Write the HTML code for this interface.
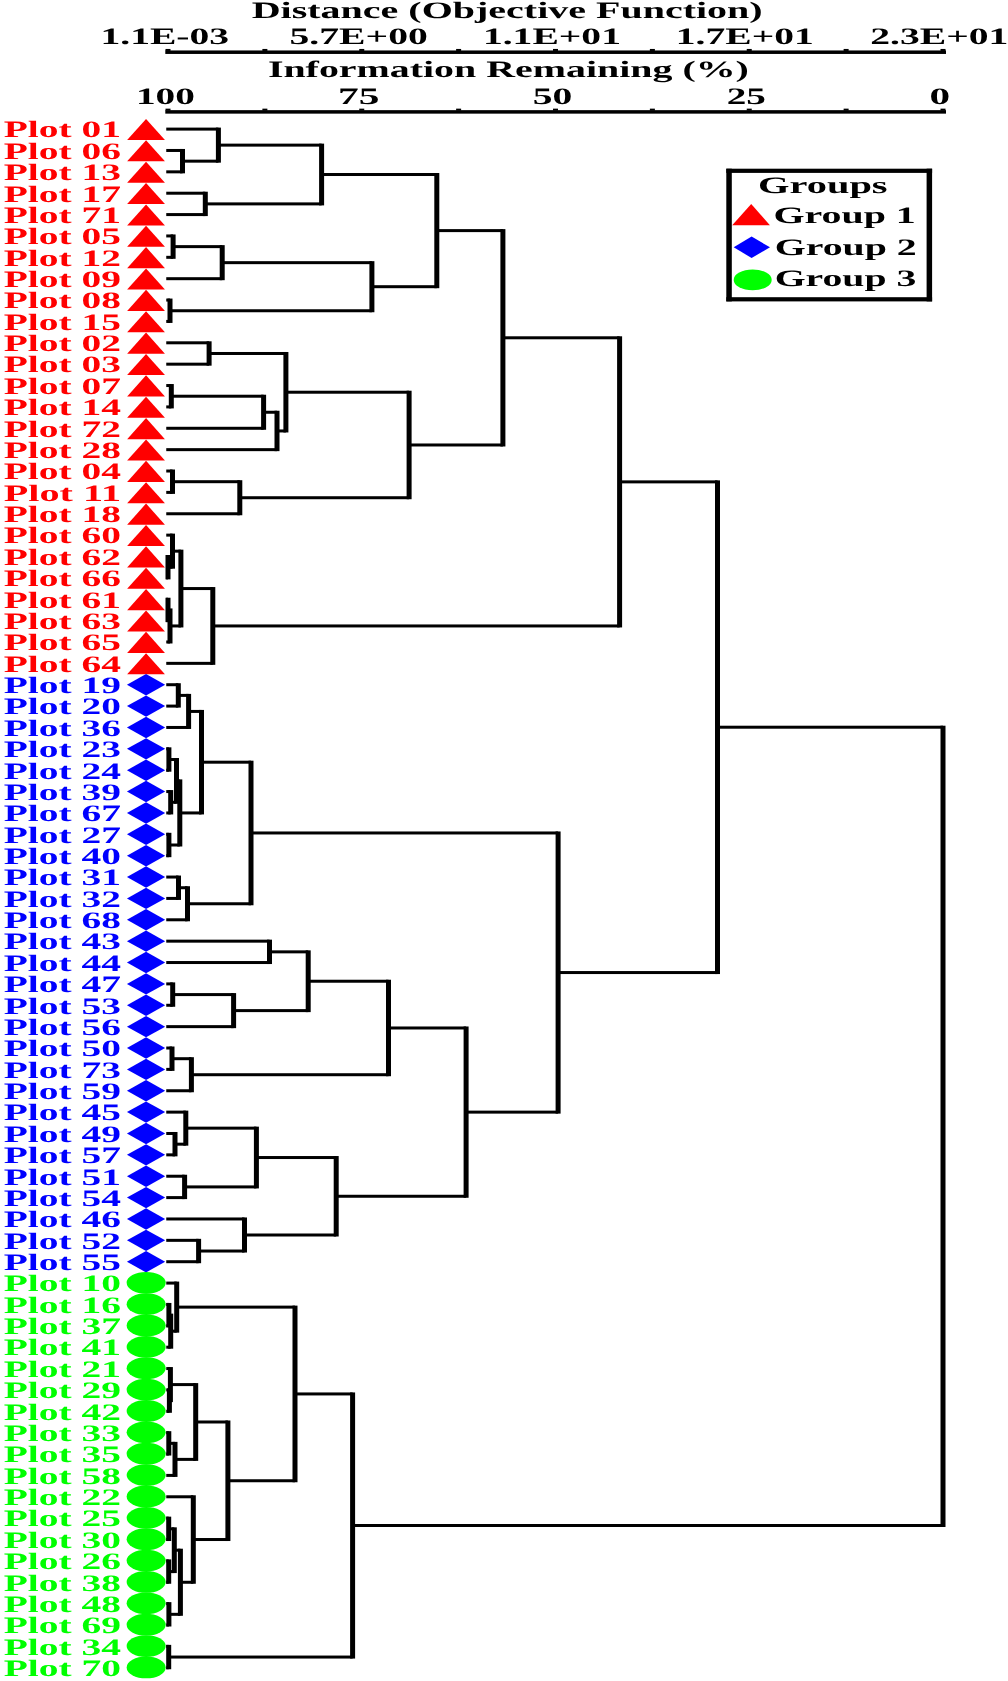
<!DOCTYPE html>
<html><head><meta charset="utf-8"><style>
html,body{margin:0;padding:0;background:#fff;width:1008px;height:1681px;overflow:hidden;}
svg{display:block;will-change:transform;}
text{font-family:"Liberation Serif",serif;font-weight:bold;text-rendering:geometricPrecision;}
</style></head><body>
<svg width="1008" height="1681" viewBox="0 0 1008 1681">
<rect width="1008" height="1681" fill="#fff"/>
<g fill="#000">
<rect x="165.3" y="50.45" width="780.7" height="3.5"/>
<rect x="165.50" y="48.95" width="5" height="2"/>
<rect x="262.38" y="48.95" width="5" height="2"/>
<rect x="359.25" y="48.95" width="5" height="2"/>
<rect x="456.12" y="48.95" width="5" height="2"/>
<rect x="553.00" y="48.95" width="5" height="2"/>
<rect x="649.88" y="48.95" width="5" height="2"/>
<rect x="746.75" y="48.95" width="5" height="2"/>
<rect x="843.62" y="48.95" width="5" height="2"/>
<rect x="940.50" y="48.95" width="5" height="2"/>
<rect x="165.3" y="110.15" width="780.7" height="3.5"/>
<rect x="165.50" y="108.65" width="5" height="2"/>
<rect x="262.38" y="108.65" width="5" height="2"/>
<rect x="359.25" y="108.65" width="5" height="2"/>
<rect x="456.12" y="108.65" width="5" height="2"/>
<rect x="553.00" y="108.65" width="5" height="2"/>
<rect x="649.88" y="108.65" width="5" height="2"/>
<rect x="746.75" y="108.65" width="5" height="2"/>
<rect x="843.62" y="108.65" width="5" height="2"/>
<rect x="940.50" y="108.65" width="5" height="2"/>
<text x="251.70" y="17.80" font-size="23.5" textLength="511.02" lengthAdjust="spacingAndGlyphs">Distance (Objective Function)</text>
<text x="100.43" y="43.70" font-size="23.5" textLength="128.76" lengthAdjust="spacingAndGlyphs">1.1E-03</text>
<text x="289.51" y="43.70" font-size="23.5" textLength="138.35" lengthAdjust="spacingAndGlyphs">5.7E+00</text>
<text x="482.93" y="43.70" font-size="23.5" textLength="138.02" lengthAdjust="spacingAndGlyphs">1.1E+01</text>
<text x="675.84" y="43.70" font-size="23.5" textLength="137.92" lengthAdjust="spacingAndGlyphs">1.7E+01</text>
<text x="870.32" y="43.70" font-size="23.5" textLength="138.14" lengthAdjust="spacingAndGlyphs">2.3E+01</text>
<text x="267.90" y="77.40" font-size="23.5" textLength="481.01" lengthAdjust="spacingAndGlyphs">Information Remaining (%)</text>
<text x="135.96" y="103.60" font-size="23.5" textLength="58.97" lengthAdjust="spacingAndGlyphs">100</text>
<text x="338.02" y="103.60" font-size="23.5" textLength="41.43" lengthAdjust="spacingAndGlyphs">75</text>
<text x="532.72" y="103.60" font-size="23.5" textLength="39.57" lengthAdjust="spacingAndGlyphs">50</text>
<text x="726.73" y="103.60" font-size="23.5" textLength="39.24" lengthAdjust="spacingAndGlyphs">25</text>
<text x="929.55" y="103.60" font-size="23.5" textLength="20.60" lengthAdjust="spacingAndGlyphs">0</text>
</g>
<g>
<polygon fill="#ff0000" points="127.15,140.00 164.95,140.00 146.05,118.90"/>
<polygon fill="#ff0000" points="127.15,161.37 164.95,161.37 146.05,140.27"/>
<polygon fill="#ff0000" points="127.15,182.74 164.95,182.74 146.05,161.64"/>
<polygon fill="#ff0000" points="127.15,204.11 164.95,204.11 146.05,183.01"/>
<polygon fill="#ff0000" points="127.15,225.48 164.95,225.48 146.05,204.38"/>
<polygon fill="#ff0000" points="127.15,246.85 164.95,246.85 146.05,225.75"/>
<polygon fill="#ff0000" points="127.15,268.22 164.95,268.22 146.05,247.12"/>
<polygon fill="#ff0000" points="127.15,289.59 164.95,289.59 146.05,268.49"/>
<polygon fill="#ff0000" points="127.15,310.96 164.95,310.96 146.05,289.86"/>
<polygon fill="#ff0000" points="127.15,332.33 164.95,332.33 146.05,311.23"/>
<polygon fill="#ff0000" points="127.15,353.70 164.95,353.70 146.05,332.60"/>
<polygon fill="#ff0000" points="127.15,375.07 164.95,375.07 146.05,353.97"/>
<polygon fill="#ff0000" points="127.15,396.44 164.95,396.44 146.05,375.34"/>
<polygon fill="#ff0000" points="127.15,417.81 164.95,417.81 146.05,396.71"/>
<polygon fill="#ff0000" points="127.15,439.18 164.95,439.18 146.05,418.08"/>
<polygon fill="#ff0000" points="127.15,460.55 164.95,460.55 146.05,439.45"/>
<polygon fill="#ff0000" points="127.15,481.92 164.95,481.92 146.05,460.82"/>
<polygon fill="#ff0000" points="127.15,503.29 164.95,503.29 146.05,482.19"/>
<polygon fill="#ff0000" points="127.15,524.66 164.95,524.66 146.05,503.56"/>
<polygon fill="#ff0000" points="127.15,546.03 164.95,546.03 146.05,524.93"/>
<polygon fill="#ff0000" points="127.15,567.40 164.95,567.40 146.05,546.30"/>
<polygon fill="#ff0000" points="127.15,588.77 164.95,588.77 146.05,567.67"/>
<polygon fill="#ff0000" points="127.15,610.14 164.95,610.14 146.05,589.04"/>
<polygon fill="#ff0000" points="127.15,631.51 164.95,631.51 146.05,610.41"/>
<polygon fill="#ff0000" points="127.15,652.88 164.95,652.88 146.05,631.78"/>
<polygon fill="#ff0000" points="127.15,674.25 164.95,674.25 146.05,653.15"/>
<polygon fill="#0000ff" points="126.95,684.72 146.05,674.02 165.15,684.72 146.05,695.42"/>
<polygon fill="#0000ff" points="126.95,706.09 146.05,695.39 165.15,706.09 146.05,716.79"/>
<polygon fill="#0000ff" points="126.95,727.46 146.05,716.76 165.15,727.46 146.05,738.16"/>
<polygon fill="#0000ff" points="126.95,748.83 146.05,738.13 165.15,748.83 146.05,759.53"/>
<polygon fill="#0000ff" points="126.95,770.20 146.05,759.50 165.15,770.20 146.05,780.90"/>
<polygon fill="#0000ff" points="126.95,791.57 146.05,780.87 165.15,791.57 146.05,802.27"/>
<polygon fill="#0000ff" points="126.95,812.94 146.05,802.24 165.15,812.94 146.05,823.64"/>
<polygon fill="#0000ff" points="126.95,834.31 146.05,823.61 165.15,834.31 146.05,845.01"/>
<polygon fill="#0000ff" points="126.95,855.68 146.05,844.98 165.15,855.68 146.05,866.38"/>
<polygon fill="#0000ff" points="126.95,877.05 146.05,866.35 165.15,877.05 146.05,887.75"/>
<polygon fill="#0000ff" points="126.95,898.42 146.05,887.72 165.15,898.42 146.05,909.12"/>
<polygon fill="#0000ff" points="126.95,919.79 146.05,909.09 165.15,919.79 146.05,930.49"/>
<polygon fill="#0000ff" points="126.95,941.16 146.05,930.46 165.15,941.16 146.05,951.86"/>
<polygon fill="#0000ff" points="126.95,962.53 146.05,951.83 165.15,962.53 146.05,973.23"/>
<polygon fill="#0000ff" points="126.95,983.90 146.05,973.20 165.15,983.90 146.05,994.60"/>
<polygon fill="#0000ff" points="126.95,1005.27 146.05,994.57 165.15,1005.27 146.05,1015.97"/>
<polygon fill="#0000ff" points="126.95,1026.64 146.05,1015.94 165.15,1026.64 146.05,1037.34"/>
<polygon fill="#0000ff" points="126.95,1048.01 146.05,1037.31 165.15,1048.01 146.05,1058.71"/>
<polygon fill="#0000ff" points="126.95,1069.38 146.05,1058.68 165.15,1069.38 146.05,1080.08"/>
<polygon fill="#0000ff" points="126.95,1090.75 146.05,1080.05 165.15,1090.75 146.05,1101.45"/>
<polygon fill="#0000ff" points="126.95,1112.12 146.05,1101.42 165.15,1112.12 146.05,1122.82"/>
<polygon fill="#0000ff" points="126.95,1133.49 146.05,1122.79 165.15,1133.49 146.05,1144.19"/>
<polygon fill="#0000ff" points="126.95,1154.86 146.05,1144.16 165.15,1154.86 146.05,1165.56"/>
<polygon fill="#0000ff" points="126.95,1176.23 146.05,1165.53 165.15,1176.23 146.05,1186.93"/>
<polygon fill="#0000ff" points="126.95,1197.60 146.05,1186.90 165.15,1197.60 146.05,1208.30"/>
<polygon fill="#0000ff" points="126.95,1218.97 146.05,1208.27 165.15,1218.97 146.05,1229.67"/>
<polygon fill="#0000ff" points="126.95,1240.34 146.05,1229.64 165.15,1240.34 146.05,1251.04"/>
<polygon fill="#0000ff" points="126.95,1261.71 146.05,1251.01 165.15,1261.71 146.05,1272.41"/>
<ellipse fill="#00ff00" cx="146.15" cy="1282.78" rx="19.5" ry="10.9"/>
<ellipse fill="#00ff00" cx="146.15" cy="1304.15" rx="19.5" ry="10.9"/>
<ellipse fill="#00ff00" cx="146.15" cy="1325.52" rx="19.5" ry="10.9"/>
<ellipse fill="#00ff00" cx="146.15" cy="1346.89" rx="19.5" ry="10.9"/>
<ellipse fill="#00ff00" cx="146.15" cy="1368.26" rx="19.5" ry="10.9"/>
<ellipse fill="#00ff00" cx="146.15" cy="1389.63" rx="19.5" ry="10.9"/>
<ellipse fill="#00ff00" cx="146.15" cy="1411.00" rx="19.5" ry="10.9"/>
<ellipse fill="#00ff00" cx="146.15" cy="1432.37" rx="19.5" ry="10.9"/>
<ellipse fill="#00ff00" cx="146.15" cy="1453.74" rx="19.5" ry="10.9"/>
<ellipse fill="#00ff00" cx="146.15" cy="1475.11" rx="19.5" ry="10.9"/>
<ellipse fill="#00ff00" cx="146.15" cy="1496.48" rx="19.5" ry="10.9"/>
<ellipse fill="#00ff00" cx="146.15" cy="1517.85" rx="19.5" ry="10.9"/>
<ellipse fill="#00ff00" cx="146.15" cy="1539.22" rx="19.5" ry="10.9"/>
<ellipse fill="#00ff00" cx="146.15" cy="1560.59" rx="19.5" ry="10.9"/>
<ellipse fill="#00ff00" cx="146.15" cy="1581.96" rx="19.5" ry="10.9"/>
<ellipse fill="#00ff00" cx="146.15" cy="1603.33" rx="19.5" ry="10.9"/>
<ellipse fill="#00ff00" cx="146.15" cy="1624.70" rx="19.5" ry="10.9"/>
<ellipse fill="#00ff00" cx="146.15" cy="1646.07" rx="19.5" ry="10.9"/>
<ellipse fill="#00ff00" cx="146.15" cy="1667.44" rx="19.5" ry="10.9"/>
</g>
<g>
<text x="3.71" y="137.40" font-size="23.5" fill="#ff0000" textLength="117.33" lengthAdjust="spacingAndGlyphs">Plot 01</text>
<text x="3.71" y="158.77" font-size="23.5" fill="#ff0000" textLength="117.33" lengthAdjust="spacingAndGlyphs">Plot 06</text>
<text x="3.71" y="180.14" font-size="23.5" fill="#ff0000" textLength="117.33" lengthAdjust="spacingAndGlyphs">Plot 13</text>
<text x="3.71" y="201.51" font-size="23.5" fill="#ff0000" textLength="117.33" lengthAdjust="spacingAndGlyphs">Plot 17</text>
<text x="3.71" y="222.88" font-size="23.5" fill="#ff0000" textLength="117.33" lengthAdjust="spacingAndGlyphs">Plot 71</text>
<text x="3.71" y="244.25" font-size="23.5" fill="#ff0000" textLength="117.33" lengthAdjust="spacingAndGlyphs">Plot 05</text>
<text x="3.71" y="265.62" font-size="23.5" fill="#ff0000" textLength="117.33" lengthAdjust="spacingAndGlyphs">Plot 12</text>
<text x="3.71" y="286.99" font-size="23.5" fill="#ff0000" textLength="117.33" lengthAdjust="spacingAndGlyphs">Plot 09</text>
<text x="3.71" y="308.36" font-size="23.5" fill="#ff0000" textLength="117.33" lengthAdjust="spacingAndGlyphs">Plot 08</text>
<text x="3.71" y="329.73" font-size="23.5" fill="#ff0000" textLength="117.33" lengthAdjust="spacingAndGlyphs">Plot 15</text>
<text x="3.71" y="351.10" font-size="23.5" fill="#ff0000" textLength="117.33" lengthAdjust="spacingAndGlyphs">Plot 02</text>
<text x="3.71" y="372.47" font-size="23.5" fill="#ff0000" textLength="117.33" lengthAdjust="spacingAndGlyphs">Plot 03</text>
<text x="3.71" y="393.84" font-size="23.5" fill="#ff0000" textLength="117.33" lengthAdjust="spacingAndGlyphs">Plot 07</text>
<text x="3.71" y="415.21" font-size="23.5" fill="#ff0000" textLength="117.33" lengthAdjust="spacingAndGlyphs">Plot 14</text>
<text x="3.71" y="436.58" font-size="23.5" fill="#ff0000" textLength="117.33" lengthAdjust="spacingAndGlyphs">Plot 72</text>
<text x="3.71" y="457.95" font-size="23.5" fill="#ff0000" textLength="117.33" lengthAdjust="spacingAndGlyphs">Plot 28</text>
<text x="3.71" y="479.32" font-size="23.5" fill="#ff0000" textLength="117.33" lengthAdjust="spacingAndGlyphs">Plot 04</text>
<text x="3.71" y="500.69" font-size="23.5" fill="#ff0000" textLength="117.33" lengthAdjust="spacingAndGlyphs">Plot 11</text>
<text x="3.71" y="522.06" font-size="23.5" fill="#ff0000" textLength="117.33" lengthAdjust="spacingAndGlyphs">Plot 18</text>
<text x="3.71" y="543.43" font-size="23.5" fill="#ff0000" textLength="117.33" lengthAdjust="spacingAndGlyphs">Plot 60</text>
<text x="3.71" y="564.80" font-size="23.5" fill="#ff0000" textLength="117.33" lengthAdjust="spacingAndGlyphs">Plot 62</text>
<text x="3.71" y="586.17" font-size="23.5" fill="#ff0000" textLength="117.33" lengthAdjust="spacingAndGlyphs">Plot 66</text>
<text x="3.71" y="607.54" font-size="23.5" fill="#ff0000" textLength="117.33" lengthAdjust="spacingAndGlyphs">Plot 61</text>
<text x="3.71" y="628.91" font-size="23.5" fill="#ff0000" textLength="117.33" lengthAdjust="spacingAndGlyphs">Plot 63</text>
<text x="3.71" y="650.28" font-size="23.5" fill="#ff0000" textLength="117.33" lengthAdjust="spacingAndGlyphs">Plot 65</text>
<text x="3.71" y="671.65" font-size="23.5" fill="#ff0000" textLength="117.33" lengthAdjust="spacingAndGlyphs">Plot 64</text>
<text x="3.71" y="693.02" font-size="23.5" fill="#0000ff" textLength="117.33" lengthAdjust="spacingAndGlyphs">Plot 19</text>
<text x="3.71" y="714.39" font-size="23.5" fill="#0000ff" textLength="117.33" lengthAdjust="spacingAndGlyphs">Plot 20</text>
<text x="3.71" y="735.76" font-size="23.5" fill="#0000ff" textLength="117.33" lengthAdjust="spacingAndGlyphs">Plot 36</text>
<text x="3.71" y="757.13" font-size="23.5" fill="#0000ff" textLength="117.33" lengthAdjust="spacingAndGlyphs">Plot 23</text>
<text x="3.71" y="778.50" font-size="23.5" fill="#0000ff" textLength="117.33" lengthAdjust="spacingAndGlyphs">Plot 24</text>
<text x="3.71" y="799.87" font-size="23.5" fill="#0000ff" textLength="117.33" lengthAdjust="spacingAndGlyphs">Plot 39</text>
<text x="3.71" y="821.24" font-size="23.5" fill="#0000ff" textLength="117.33" lengthAdjust="spacingAndGlyphs">Plot 67</text>
<text x="3.71" y="842.61" font-size="23.5" fill="#0000ff" textLength="117.33" lengthAdjust="spacingAndGlyphs">Plot 27</text>
<text x="3.71" y="863.98" font-size="23.5" fill="#0000ff" textLength="117.33" lengthAdjust="spacingAndGlyphs">Plot 40</text>
<text x="3.71" y="885.35" font-size="23.5" fill="#0000ff" textLength="117.33" lengthAdjust="spacingAndGlyphs">Plot 31</text>
<text x="3.71" y="906.72" font-size="23.5" fill="#0000ff" textLength="117.33" lengthAdjust="spacingAndGlyphs">Plot 32</text>
<text x="3.71" y="928.09" font-size="23.5" fill="#0000ff" textLength="117.33" lengthAdjust="spacingAndGlyphs">Plot 68</text>
<text x="3.71" y="949.46" font-size="23.5" fill="#0000ff" textLength="117.33" lengthAdjust="spacingAndGlyphs">Plot 43</text>
<text x="3.71" y="970.83" font-size="23.5" fill="#0000ff" textLength="117.33" lengthAdjust="spacingAndGlyphs">Plot 44</text>
<text x="3.71" y="992.20" font-size="23.5" fill="#0000ff" textLength="117.33" lengthAdjust="spacingAndGlyphs">Plot 47</text>
<text x="3.71" y="1013.57" font-size="23.5" fill="#0000ff" textLength="117.33" lengthAdjust="spacingAndGlyphs">Plot 53</text>
<text x="3.71" y="1034.94" font-size="23.5" fill="#0000ff" textLength="117.33" lengthAdjust="spacingAndGlyphs">Plot 56</text>
<text x="3.71" y="1056.31" font-size="23.5" fill="#0000ff" textLength="117.33" lengthAdjust="spacingAndGlyphs">Plot 50</text>
<text x="3.71" y="1077.68" font-size="23.5" fill="#0000ff" textLength="117.33" lengthAdjust="spacingAndGlyphs">Plot 73</text>
<text x="3.71" y="1099.05" font-size="23.5" fill="#0000ff" textLength="117.33" lengthAdjust="spacingAndGlyphs">Plot 59</text>
<text x="3.71" y="1120.42" font-size="23.5" fill="#0000ff" textLength="117.33" lengthAdjust="spacingAndGlyphs">Plot 45</text>
<text x="3.71" y="1141.79" font-size="23.5" fill="#0000ff" textLength="117.33" lengthAdjust="spacingAndGlyphs">Plot 49</text>
<text x="3.71" y="1163.16" font-size="23.5" fill="#0000ff" textLength="117.33" lengthAdjust="spacingAndGlyphs">Plot 57</text>
<text x="3.71" y="1184.53" font-size="23.5" fill="#0000ff" textLength="117.33" lengthAdjust="spacingAndGlyphs">Plot 51</text>
<text x="3.71" y="1205.90" font-size="23.5" fill="#0000ff" textLength="117.33" lengthAdjust="spacingAndGlyphs">Plot 54</text>
<text x="3.71" y="1227.27" font-size="23.5" fill="#0000ff" textLength="117.33" lengthAdjust="spacingAndGlyphs">Plot 46</text>
<text x="3.71" y="1248.64" font-size="23.5" fill="#0000ff" textLength="117.33" lengthAdjust="spacingAndGlyphs">Plot 52</text>
<text x="3.71" y="1270.01" font-size="23.5" fill="#0000ff" textLength="117.33" lengthAdjust="spacingAndGlyphs">Plot 55</text>
<text x="3.71" y="1291.38" font-size="23.5" fill="#00ff00" textLength="117.33" lengthAdjust="spacingAndGlyphs">Plot 10</text>
<text x="3.71" y="1312.75" font-size="23.5" fill="#00ff00" textLength="117.33" lengthAdjust="spacingAndGlyphs">Plot 16</text>
<text x="3.71" y="1334.12" font-size="23.5" fill="#00ff00" textLength="117.33" lengthAdjust="spacingAndGlyphs">Plot 37</text>
<text x="3.71" y="1355.49" font-size="23.5" fill="#00ff00" textLength="117.33" lengthAdjust="spacingAndGlyphs">Plot 41</text>
<text x="3.71" y="1376.86" font-size="23.5" fill="#00ff00" textLength="117.33" lengthAdjust="spacingAndGlyphs">Plot 21</text>
<text x="3.71" y="1398.23" font-size="23.5" fill="#00ff00" textLength="117.33" lengthAdjust="spacingAndGlyphs">Plot 29</text>
<text x="3.71" y="1419.60" font-size="23.5" fill="#00ff00" textLength="117.33" lengthAdjust="spacingAndGlyphs">Plot 42</text>
<text x="3.71" y="1440.97" font-size="23.5" fill="#00ff00" textLength="117.33" lengthAdjust="spacingAndGlyphs">Plot 33</text>
<text x="3.71" y="1462.34" font-size="23.5" fill="#00ff00" textLength="117.33" lengthAdjust="spacingAndGlyphs">Plot 35</text>
<text x="3.71" y="1483.71" font-size="23.5" fill="#00ff00" textLength="117.33" lengthAdjust="spacingAndGlyphs">Plot 58</text>
<text x="3.71" y="1505.08" font-size="23.5" fill="#00ff00" textLength="117.33" lengthAdjust="spacingAndGlyphs">Plot 22</text>
<text x="3.71" y="1526.45" font-size="23.5" fill="#00ff00" textLength="117.33" lengthAdjust="spacingAndGlyphs">Plot 25</text>
<text x="3.71" y="1547.82" font-size="23.5" fill="#00ff00" textLength="117.33" lengthAdjust="spacingAndGlyphs">Plot 30</text>
<text x="3.71" y="1569.19" font-size="23.5" fill="#00ff00" textLength="117.33" lengthAdjust="spacingAndGlyphs">Plot 26</text>
<text x="3.71" y="1590.56" font-size="23.5" fill="#00ff00" textLength="117.33" lengthAdjust="spacingAndGlyphs">Plot 38</text>
<text x="3.71" y="1611.93" font-size="23.5" fill="#00ff00" textLength="117.33" lengthAdjust="spacingAndGlyphs">Plot 48</text>
<text x="3.71" y="1633.30" font-size="23.5" fill="#00ff00" textLength="117.33" lengthAdjust="spacingAndGlyphs">Plot 69</text>
<text x="3.71" y="1654.67" font-size="23.5" fill="#00ff00" textLength="117.33" lengthAdjust="spacingAndGlyphs">Plot 34</text>
<text x="3.71" y="1676.04" font-size="23.5" fill="#00ff00" textLength="117.33" lengthAdjust="spacingAndGlyphs">Plot 70</text>
</g>
<g fill="#000">
<rect x="166.25" y="148.97" width="16.25" height="3.00"/>
<rect x="166.25" y="170.34" width="16.25" height="3.00"/>
<rect x="180.00" y="148.97" width="5.00" height="24.37"/>
<rect x="166.25" y="127.60" width="52.15" height="3.00"/>
<rect x="182.50" y="159.66" width="35.90" height="3.00"/>
<rect x="215.90" y="127.60" width="5.00" height="35.06"/>
<rect x="166.25" y="191.71" width="39.05" height="3.00"/>
<rect x="166.25" y="213.08" width="39.05" height="3.00"/>
<rect x="202.80" y="191.71" width="5.00" height="24.37"/>
<rect x="218.40" y="143.63" width="103.20" height="3.00"/>
<rect x="205.30" y="202.39" width="116.30" height="3.00"/>
<rect x="319.10" y="143.63" width="5.00" height="61.77"/>
<rect x="166.25" y="234.45" width="6.85" height="3.00"/>
<rect x="166.25" y="255.82" width="6.85" height="3.00"/>
<rect x="170.60" y="234.45" width="5.00" height="24.37"/>
<rect x="173.10" y="245.13" width="49.10" height="3.00"/>
<rect x="166.25" y="277.19" width="55.95" height="3.00"/>
<rect x="219.70" y="245.13" width="5.00" height="35.06"/>
<rect x="166.25" y="298.56" width="3.75" height="3.00"/>
<rect x="166.25" y="319.93" width="3.75" height="3.00"/>
<rect x="167.50" y="298.56" width="5.00" height="24.37"/>
<rect x="222.20" y="261.16" width="149.70" height="3.00"/>
<rect x="170.00" y="309.25" width="201.90" height="3.00"/>
<rect x="369.40" y="261.16" width="5.00" height="51.08"/>
<rect x="321.60" y="173.01" width="115.20" height="3.00"/>
<rect x="371.90" y="285.20" width="64.90" height="3.00"/>
<rect x="434.30" y="173.01" width="5.00" height="115.19"/>
<rect x="166.25" y="341.30" width="42.85" height="3.00"/>
<rect x="166.25" y="362.67" width="42.85" height="3.00"/>
<rect x="206.60" y="341.30" width="5.00" height="24.37"/>
<rect x="166.25" y="384.04" width="5.05" height="3.00"/>
<rect x="166.25" y="405.41" width="5.05" height="3.00"/>
<rect x="168.80" y="384.04" width="5.00" height="24.37"/>
<rect x="171.30" y="394.72" width="92.30" height="3.00"/>
<rect x="166.25" y="426.78" width="97.35" height="3.00"/>
<rect x="261.10" y="394.72" width="5.00" height="35.06"/>
<rect x="263.60" y="410.75" width="13.40" height="3.00"/>
<rect x="166.25" y="448.15" width="110.75" height="3.00"/>
<rect x="274.50" y="410.75" width="5.00" height="40.40"/>
<rect x="209.10" y="351.99" width="76.80" height="3.00"/>
<rect x="277.00" y="429.45" width="8.90" height="3.00"/>
<rect x="283.40" y="351.99" width="5.00" height="80.47"/>
<rect x="166.25" y="469.52" width="6.25" height="3.00"/>
<rect x="166.25" y="490.89" width="6.25" height="3.00"/>
<rect x="170.00" y="469.52" width="5.00" height="24.37"/>
<rect x="172.50" y="480.20" width="67.30" height="3.00"/>
<rect x="166.25" y="512.26" width="73.55" height="3.00"/>
<rect x="237.30" y="480.20" width="5.00" height="35.06"/>
<rect x="285.90" y="390.72" width="123.20" height="3.00"/>
<rect x="239.80" y="496.23" width="169.30" height="3.00"/>
<rect x="406.60" y="390.72" width="5.00" height="108.51"/>
<rect x="166.25" y="555.00" width="1.75" height="3.00"/>
<rect x="166.25" y="576.37" width="1.75" height="3.00"/>
<rect x="165.50" y="555.00" width="5.00" height="24.37"/>
<rect x="166.25" y="533.63" width="6.25" height="3.00"/>
<rect x="168.00" y="565.68" width="4.50" height="3.00"/>
<rect x="170.00" y="533.63" width="5.00" height="35.05"/>
<rect x="166.25" y="597.74" width="1.75" height="3.00"/>
<rect x="166.25" y="619.11" width="1.75" height="3.00"/>
<rect x="165.50" y="597.74" width="5.00" height="24.37"/>
<rect x="168.00" y="608.42" width="2.00" height="3.00"/>
<rect x="166.25" y="640.48" width="3.75" height="3.00"/>
<rect x="167.50" y="608.42" width="5.00" height="35.06"/>
<rect x="172.50" y="549.66" width="8.40" height="3.00"/>
<rect x="170.00" y="624.45" width="10.90" height="3.00"/>
<rect x="178.40" y="549.66" width="5.00" height="77.79"/>
<rect x="180.90" y="587.06" width="31.90" height="3.00"/>
<rect x="166.25" y="661.85" width="46.55" height="3.00"/>
<rect x="210.30" y="587.06" width="5.00" height="77.79"/>
<rect x="436.80" y="229.11" width="66.10" height="3.00"/>
<rect x="409.10" y="443.48" width="93.80" height="3.00"/>
<rect x="500.40" y="229.11" width="5.00" height="217.37"/>
<rect x="502.90" y="336.29" width="116.70" height="3.00"/>
<rect x="212.80" y="624.45" width="406.80" height="3.00"/>
<rect x="617.10" y="336.29" width="5.00" height="291.16"/>
<rect x="166.25" y="683.22" width="12.05" height="3.00"/>
<rect x="166.25" y="704.59" width="12.05" height="3.00"/>
<rect x="175.80" y="683.22" width="5.00" height="24.37"/>
<rect x="178.30" y="693.90" width="10.30" height="3.00"/>
<rect x="166.25" y="725.96" width="22.35" height="3.00"/>
<rect x="186.10" y="693.90" width="5.00" height="35.06"/>
<rect x="166.25" y="747.33" width="2.65" height="3.00"/>
<rect x="166.25" y="768.70" width="2.65" height="3.00"/>
<rect x="166.40" y="747.33" width="5.00" height="24.37"/>
<rect x="166.25" y="790.07" width="4.45" height="3.00"/>
<rect x="166.25" y="811.44" width="4.45" height="3.00"/>
<rect x="168.20" y="790.07" width="5.00" height="24.37"/>
<rect x="168.90" y="758.02" width="7.60" height="3.00"/>
<rect x="170.70" y="800.76" width="5.80" height="3.00"/>
<rect x="174.00" y="758.02" width="5.00" height="45.74"/>
<rect x="166.25" y="832.81" width="2.65" height="3.00"/>
<rect x="166.25" y="854.18" width="2.65" height="3.00"/>
<rect x="166.40" y="832.81" width="5.00" height="24.37"/>
<rect x="176.50" y="779.39" width="3.30" height="3.00"/>
<rect x="168.90" y="843.50" width="10.90" height="3.00"/>
<rect x="177.30" y="779.39" width="5.00" height="67.11"/>
<rect x="188.60" y="709.93" width="12.90" height="3.00"/>
<rect x="179.80" y="811.44" width="21.70" height="3.00"/>
<rect x="199.00" y="709.93" width="5.00" height="104.51"/>
<rect x="166.25" y="875.55" width="12.25" height="3.00"/>
<rect x="166.25" y="896.92" width="12.25" height="3.00"/>
<rect x="176.00" y="875.55" width="5.00" height="24.37"/>
<rect x="178.50" y="886.24" width="9.00" height="3.00"/>
<rect x="166.25" y="918.29" width="21.25" height="3.00"/>
<rect x="185.00" y="886.24" width="5.00" height="35.05"/>
<rect x="201.50" y="760.69" width="49.50" height="3.00"/>
<rect x="187.50" y="902.26" width="63.50" height="3.00"/>
<rect x="248.50" y="760.69" width="5.00" height="144.58"/>
<rect x="166.25" y="939.66" width="103.25" height="3.00"/>
<rect x="166.25" y="961.03" width="103.25" height="3.00"/>
<rect x="267.00" y="939.66" width="5.00" height="24.37"/>
<rect x="166.25" y="982.40" width="6.45" height="3.00"/>
<rect x="166.25" y="1003.77" width="6.45" height="3.00"/>
<rect x="170.20" y="982.40" width="5.00" height="24.37"/>
<rect x="172.70" y="993.09" width="60.90" height="3.00"/>
<rect x="166.25" y="1025.14" width="67.35" height="3.00"/>
<rect x="231.10" y="993.09" width="5.00" height="35.06"/>
<rect x="269.50" y="950.35" width="38.70" height="3.00"/>
<rect x="233.60" y="1009.11" width="74.60" height="3.00"/>
<rect x="305.70" y="950.35" width="5.00" height="61.77"/>
<rect x="166.25" y="1046.51" width="5.75" height="3.00"/>
<rect x="166.25" y="1067.88" width="5.75" height="3.00"/>
<rect x="169.50" y="1046.51" width="5.00" height="24.37"/>
<rect x="172.00" y="1057.20" width="19.40" height="3.00"/>
<rect x="166.25" y="1089.25" width="25.15" height="3.00"/>
<rect x="188.90" y="1057.20" width="5.00" height="35.05"/>
<rect x="308.20" y="979.73" width="80.30" height="3.00"/>
<rect x="191.40" y="1073.22" width="197.10" height="3.00"/>
<rect x="386.00" y="979.73" width="5.00" height="96.49"/>
<rect x="166.25" y="1131.99" width="8.75" height="3.00"/>
<rect x="166.25" y="1153.36" width="8.75" height="3.00"/>
<rect x="172.50" y="1131.99" width="5.00" height="24.37"/>
<rect x="166.25" y="1110.62" width="19.55" height="3.00"/>
<rect x="175.00" y="1142.67" width="10.80" height="3.00"/>
<rect x="183.30" y="1110.62" width="5.00" height="35.05"/>
<rect x="166.25" y="1174.73" width="18.35" height="3.00"/>
<rect x="166.25" y="1196.10" width="18.35" height="3.00"/>
<rect x="182.10" y="1174.73" width="5.00" height="24.37"/>
<rect x="185.80" y="1126.65" width="70.60" height="3.00"/>
<rect x="184.60" y="1185.41" width="71.80" height="3.00"/>
<rect x="253.90" y="1126.65" width="5.00" height="61.77"/>
<rect x="166.25" y="1238.84" width="32.35" height="3.00"/>
<rect x="166.25" y="1260.21" width="32.35" height="3.00"/>
<rect x="196.10" y="1238.84" width="5.00" height="24.37"/>
<rect x="166.25" y="1217.47" width="78.25" height="3.00"/>
<rect x="198.60" y="1249.53" width="45.90" height="3.00"/>
<rect x="242.00" y="1217.47" width="5.00" height="35.06"/>
<rect x="256.40" y="1156.03" width="79.80" height="3.00"/>
<rect x="244.50" y="1233.50" width="91.70" height="3.00"/>
<rect x="333.70" y="1156.03" width="5.00" height="80.47"/>
<rect x="388.50" y="1026.48" width="77.60" height="3.00"/>
<rect x="336.20" y="1194.76" width="129.90" height="3.00"/>
<rect x="463.60" y="1026.48" width="5.00" height="171.29"/>
<rect x="251.00" y="831.47" width="307.10" height="3.00"/>
<rect x="466.10" y="1110.62" width="92.00" height="3.00"/>
<rect x="555.60" y="831.47" width="5.00" height="282.15"/>
<rect x="619.60" y="480.37" width="97.90" height="3.00"/>
<rect x="558.10" y="971.05" width="159.40" height="3.00"/>
<rect x="715.00" y="480.37" width="5.00" height="493.68"/>
<rect x="166.25" y="1302.95" width="2.65" height="3.00"/>
<rect x="166.25" y="1324.32" width="2.65" height="3.00"/>
<rect x="166.40" y="1302.95" width="5.00" height="24.37"/>
<rect x="168.90" y="1313.63" width="1.80" height="3.00"/>
<rect x="166.25" y="1345.69" width="4.45" height="3.00"/>
<rect x="168.20" y="1313.63" width="5.00" height="35.06"/>
<rect x="166.25" y="1281.58" width="10.45" height="3.00"/>
<rect x="170.70" y="1329.66" width="6.00" height="3.00"/>
<rect x="174.20" y="1281.58" width="5.00" height="51.08"/>
<rect x="166.25" y="1388.43" width="3.15" height="3.00"/>
<rect x="166.25" y="1409.80" width="3.15" height="3.00"/>
<rect x="166.90" y="1388.43" width="5.00" height="24.37"/>
<rect x="166.25" y="1367.06" width="4.15" height="3.00"/>
<rect x="169.40" y="1399.12" width="1.00" height="3.00"/>
<rect x="167.90" y="1367.06" width="5.00" height="35.06"/>
<rect x="166.25" y="1431.17" width="2.55" height="3.00"/>
<rect x="166.25" y="1452.54" width="2.55" height="3.00"/>
<rect x="166.30" y="1431.17" width="5.00" height="24.37"/>
<rect x="168.80" y="1441.86" width="6.20" height="3.00"/>
<rect x="166.25" y="1473.91" width="8.75" height="3.00"/>
<rect x="172.50" y="1441.86" width="5.00" height="35.06"/>
<rect x="170.40" y="1383.09" width="25.30" height="3.00"/>
<rect x="175.00" y="1457.88" width="20.70" height="3.00"/>
<rect x="193.20" y="1383.09" width="5.00" height="77.80"/>
<rect x="166.25" y="1516.65" width="2.45" height="3.00"/>
<rect x="166.25" y="1538.02" width="2.45" height="3.00"/>
<rect x="166.20" y="1516.65" width="5.00" height="24.37"/>
<rect x="166.25" y="1559.39" width="2.45" height="3.00"/>
<rect x="166.25" y="1580.76" width="2.45" height="3.00"/>
<rect x="166.20" y="1559.39" width="5.00" height="24.37"/>
<rect x="168.70" y="1527.34" width="5.60" height="3.00"/>
<rect x="168.70" y="1570.07" width="5.60" height="3.00"/>
<rect x="171.80" y="1527.34" width="5.00" height="45.74"/>
<rect x="166.25" y="1602.13" width="2.65" height="3.00"/>
<rect x="166.25" y="1623.50" width="2.65" height="3.00"/>
<rect x="166.40" y="1602.13" width="5.00" height="24.37"/>
<rect x="174.30" y="1548.70" width="6.10" height="3.00"/>
<rect x="168.90" y="1612.82" width="11.50" height="3.00"/>
<rect x="177.90" y="1548.70" width="5.00" height="67.11"/>
<rect x="166.25" y="1495.28" width="27.05" height="3.00"/>
<rect x="180.40" y="1580.76" width="12.90" height="3.00"/>
<rect x="190.80" y="1495.28" width="5.00" height="88.48"/>
<rect x="195.70" y="1420.49" width="32.20" height="3.00"/>
<rect x="193.30" y="1538.02" width="34.60" height="3.00"/>
<rect x="225.40" y="1420.49" width="5.00" height="120.53"/>
<rect x="176.70" y="1305.62" width="118.30" height="3.00"/>
<rect x="227.90" y="1479.25" width="67.10" height="3.00"/>
<rect x="292.50" y="1305.62" width="5.00" height="176.63"/>
<rect x="166.25" y="1644.87" width="2.45" height="3.00"/>
<rect x="166.25" y="1666.24" width="2.45" height="3.00"/>
<rect x="166.20" y="1644.87" width="5.00" height="24.37"/>
<rect x="295.00" y="1392.44" width="57.60" height="3.00"/>
<rect x="168.70" y="1655.55" width="183.90" height="3.00"/>
<rect x="350.10" y="1392.44" width="5.00" height="266.12"/>
<rect x="717.50" y="725.71" width="225.50" height="3.00"/>
<rect x="352.60" y="1524.00" width="590.40" height="3.00"/>
<rect x="940.50" y="725.71" width="5.00" height="801.29"/>
</g>
<g fill="#000">
<rect x="726.3" y="168.7" width="205.80" height="4.2"/>
<rect x="726.3" y="297.20" width="205.80" height="4.2"/>
<rect x="726.3" y="168.7" width="5.5" height="132.70"/>
<rect x="926.60" y="168.7" width="5.5" height="132.70"/>
<text x="758.08" y="192.50" font-size="23.5" textLength="129.53" lengthAdjust="spacingAndGlyphs">Groups</text>
<polygon fill="#ff0000" points="732.2,225.3 769.9,225.3 751.2,204"/>
<polygon fill="#0000ff" points="733.7,247.3 751.6,236.6 770,247.3 751.6,258"/>
<ellipse fill="#00ff00" cx="752.7" cy="279.9" rx="19" ry="10.4"/>
<text x="773.40" y="222.60" font-size="23.5" textLength="142.43" lengthAdjust="spacingAndGlyphs">Group 1</text>
<text x="774.71" y="254.90" font-size="23.5" textLength="142.02" lengthAdjust="spacingAndGlyphs">Group 2</text>
<text x="774.71" y="286.20" font-size="23.5" textLength="141.61" lengthAdjust="spacingAndGlyphs">Group 3</text>
</g>
</svg>
</body></html>
